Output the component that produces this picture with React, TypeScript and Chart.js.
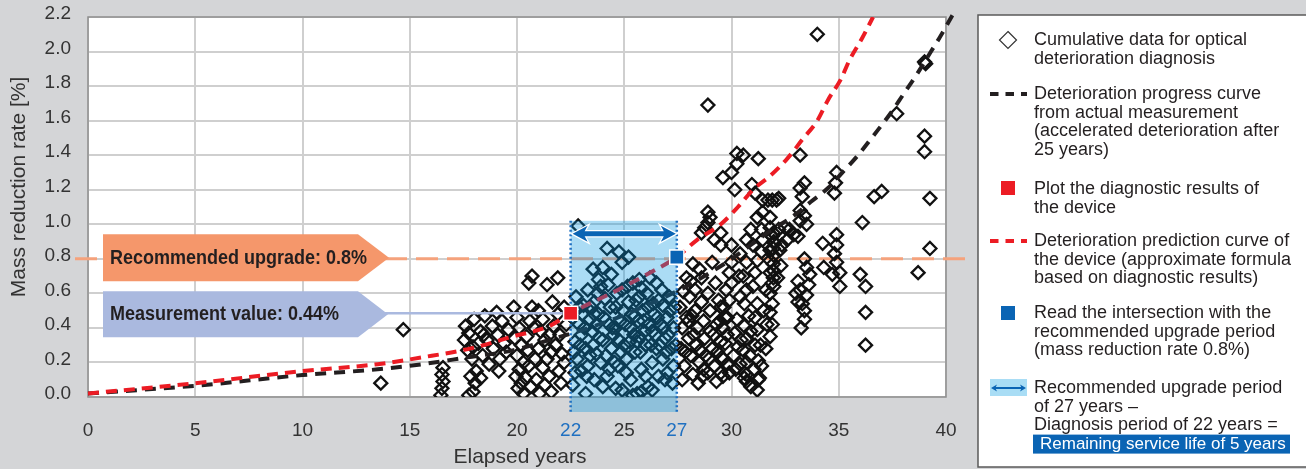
import React, { useEffect, useRef } from 'react';
import { Chart, registerables } from 'chart.js';

Chart.register(...registerables);

const W = 1306;
const H = 469;
const FONT = '"Liberation Sans", Arial, Helvetica, sans-serif';
const BG = '#d4d5d7';
const INK = '#231f20';
const AXIS_TEXT = '#333333';
const GRID = '#cfcfcf';
const FRAME = '#8e8e8e';
const BLUE = '#0a64b4';
const TICK_BLUE = '#1f70c1';
const RED = '#ec1c24';
const ORANGE_LINE = '#f5a27c';
const ORANGE_BOX = '#f5976b';
const LAVENDER = '#aab9df';
const REGION = 'rgba(0,150,225,0.33)';

// target plot rectangle in the page
const PLOT = { left: 88, top: 17, right: 946, bottom: 397 };

// ---------- axes ----------
const xTickValues = [0, 5, 10, 15, 20, 22.5, 25, 27.45, 30, 35, 40];
const xTickLabels = ['0', '5', '10', '15', '20', '22', '25', '27', '30', '35', '40'];
const xHighlightTicks = [22.5, 27.45];
const yTickValues = [0, 0.2, 0.4, 0.6, 0.8, 1.0, 1.2, 1.4, 1.6, 1.8, 2.0, 2.2];

// ---------- key values ----------
const diagnosisPoint = [22.5, 0.485]; // drawn where the reference puts "22"
const upgradePoint = [27.45, 0.81]; // drawn where the reference puts "27"
const upgradeThreshold = 0.8;
const periodBandTop = 1.02;

const recommendedLabel = 'Recommended upgrade: 0.8%';
const measurementLabel = 'Measurement value: 0.44%';

// ---------- curves ----------
const predictionX = [0, 5, 10, 13.5, 15.6, 17.8, 19.8, 21.5, 22.5, 24.7, 26.2, 27.45, 28.4, 29.5, 30.3, 31, 31.8, 32.6, 33.3, 34, 34.5, 35.1, 35.5, 36.1, 36.6];
const predictionY = [0.02, 0.08, 0.15, 0.19, 0.23, 0.28, 0.35, 0.41, 0.485, 0.62, 0.72, 0.81, 0.91, 1.0, 1.1, 1.2, 1.28, 1.38, 1.49, 1.6, 1.72, 1.84, 1.95, 2.08, 2.2];
const progressX = [0, 5, 10, 13.5, 15.6, 17.7, 19.8, 21.5, 23.1, 24.7, 26.2, 27.9, 29.0, 29.9, 30.9, 31.9, 32.8, 33.7, 34.5, 35.1, 35.9, 36.6, 37.4, 38.0, 38.6, 39.3, 39.7, 40.3];
const progressY = [0.02, 0.065, 0.127, 0.16, 0.19, 0.23, 0.27, 0.33, 0.39, 0.46, 0.54, 0.64, 0.72, 0.79, 0.88, 0.97, 1.04, 1.13, 1.21, 1.29, 1.4, 1.51, 1.64, 1.75, 1.86, 2.0, 2.08, 2.21];

// ---------- cumulative diagnosis data ----------
const diagnosisData: [number, number][] = [
  [13.65, 0.08], [14.7, 0.39],
  [16.55, 0.17], [16.5, 0.13], [16.55, 0.09], [16.5, 0.05], [16.45, 0.01],
  [17.55, 0.33], [17.6, 0.41], [17.75, 0.37], [17.7, 0.27], [17.9, 0.22], [18.0, 0.45], [18.1, 0.15], [18.2, 0.31], [18.3, 0.38], [18.4, 0.24],
  [18.5, 0.47], [18.6, 0.33], [18.7, 0.19], [18.85, 0.41], [18.9, 0.28], [19.05, 0.49], [19.1, 0.36], [19.2, 0.22], [19.3, 0.44], [19.4, 0.31],
  [17.75, 0.01], [17.95, 0.03], [18.05, 0.08], [17.85, 0.12], [18.3, 0.11], [19.6, 0.39], [19.5, 0.26], [18.45, 0.36], [17.95, 0.29], [19.15, 0.15],
  [19.85, 0.52], [20.0, 0.46], [20.1, 0.4], [19.9, 0.34], [20.2, 0.3], [20.0, 0.24], [20.3, 0.2], [20.1, 0.16], [19.95, 0.12], [20.2, 0.08],
  [20.05, 0.05], [20.3, 0.02], [20.4, 0.11], [20.5, 0.27], [20.6, 0.44], [20.45, 0.35], [20.7, 0.52], [20.55, 0.18], [20.55, 0.66], [20.7, 0.7],
  [21.4, 0.65], [21.9, 0.69], [21.0, 0.5], [21.2, 0.45], [21.1, 0.38], [21.3, 0.33], [21.0, 0.28], [21.4, 0.22], [21.2, 0.17], [21.5, 0.12],
  [21.3, 0.07], [21.6, 0.03], [21.7, 0.41], [21.8, 0.3], [21.9, 0.48], [22.0, 0.36], [22.1, 0.25], [21.95, 0.15], [22.2, 0.52], [22.3, 0.42],
  [22.2, 0.2], [21.65, 0.55], [21.5, 0.36], [20.9, 0.1], [21.05, 0.02], [20.8, 0.4], [20.85, 0.22], [21.6, 0.26], [22.05, 0.08], [20.65, 0.06],
  [22.85, 0.99], [22.6, 0.07], [22.7, 0.32], [22.8, 0.22], [22.9, 0.42], [23.0, 0.15], [23.1, 0.53], [23.0, 0.36], [23.2, 0.28], [23.3, 0.62],
  [23.4, 0.45], [23.3, 0.18], [23.55, 0.74], [23.6, 0.55], [23.5, 0.38], [23.7, 0.25], [23.6, 0.1], [23.8, 0.48], [23.9, 0.64], [24.0, 0.33],
  [23.9, 0.2], [24.0, 0.75], [24.2, 0.86], [24.1, 0.57], [24.3, 0.42], [24.2, 0.12], [24.4, 0.28], [24.4, 0.71], [24.6, 0.52], [24.5, 0.36],
  [24.7, 0.18], [24.6, 0.05], [24.75, 0.84], [24.9, 0.62], [24.8, 0.44], [25.0, 0.3], [24.9, 0.78], [25.1, 0.22], [25.2, 0.81], [25.2, 0.55],
  [25.3, 0.4], [25.3, 0.1], [25.4, 0.66], [25.5, 0.47], [25.5, 0.26], [25.6, 0.02], [25.7, 0.58], [25.7, 0.35], [25.8, 0.16], [25.7, 0.68],
  [25.9, 0.44], [26.0, 0.3], [26.1, 0.52], [26.1, 0.06], [26.2, 0.69], [26.3, 0.38], [26.3, 0.2], [26.4, 0.48], [26.5, 0.66], [26.5, 0.28],
  [26.6, 0.12], [26.7, 0.42], [26.8, 0.53], [26.8, 0.22], [26.9, 0.34], [27.0, 0.46], [27.1, 0.58], [27.0, 0.14], [27.2, 0.28], [27.3, 0.4],
  [27.3, 0.18], [22.6, 0.46], [22.75, 0.58], [22.65, 0.26], [22.95, 0.3], [23.15, 0.4], [23.05, 0.48], [23.25, 0.12], [23.45, 0.52], [23.55, 0.3],
  [23.75, 0.6], [23.7, 0.42], [23.85, 0.34], [24.05, 0.46], [24.15, 0.24], [24.25, 0.65], [24.35, 0.52], [24.45, 0.4], [24.55, 0.2], [24.65, 0.6],
  [24.75, 0.33], [24.85, 0.26], [24.95, 0.5], [25.05, 0.42], [25.15, 0.64], [25.25, 0.32], [25.35, 0.48], [25.45, 0.36], [25.55, 0.56], [25.65, 0.44],
  [25.75, 0.26], [25.85, 0.5], [25.95, 0.38], [26.05, 0.6], [26.15, 0.42], [26.25, 0.3], [26.35, 0.54], [26.45, 0.36], [26.55, 0.46], [26.65, 0.3],
  [26.75, 0.62], [26.85, 0.4], [26.95, 0.26], [27.05, 0.36], [27.15, 0.5], [27.25, 0.08], [24.0, 0.06], [24.9, 0.04], [25.4, 0.01], [25.8, 0.03],
  [26.3, 0.04], [23.2, 0.02], [23.8, 0.68], [25.8, 0.63], [22.7, 0.14], [23.4, 0.24], [24.3, 0.16], [25.1, 0.14], [26.0, 0.12], [26.9, 0.1],
  [22.9, 0.52], [23.6, 0.48], [24.6, 0.4], [25.6, 0.32], [26.6, 0.56], [27.35, 0.52], [27.4, 0.3],
  [27.6, 0.52], [27.75, 0.61], [27.7, 0.4], [27.65, 0.28], [27.8, 0.18], [27.7, 0.1], [27.9, 0.46], [28.05, 0.58], [28.1, 0.67], [28.0, 0.34],
  [28.1, 0.24], [28.2, 0.13], [28.3, 0.5], [28.4, 0.4], [28.35, 0.3], [28.5, 0.2], [28.45, 0.08], [28.6, 0.69], [28.6, 0.55], [28.7, 0.44],
  [28.75, 0.34], [28.8, 0.24], [28.9, 0.14], [28.9, 0.6], [29.0, 0.5], [29.0, 0.38], [29.1, 0.28], [29.2, 0.18], [29.3, 0.09], [29.3, 0.42],
  [29.4, 0.56], [29.5, 0.52], [29.5, 0.32], [29.6, 0.22], [29.7, 0.46], [29.75, 0.62], [29.8, 0.36], [29.9, 0.14], [29.5, 0.14], [27.9, 0.69],
  [28.5, 0.74], [28.6, 0.95], [28.9, 1.07], [28.9, 1.01], [29.5, 0.95], [29.5, 0.88], [28.75, 0.98], [29.0, 1.04], [29.2, 0.91], [29.6, 1.27],
  [28.9, 1.69], [28.2, 0.77], [29.1, 0.78], [28.3, 0.62], [29.25, 0.66], [29.9, 0.72], [30.0, 0.66], [30.0, 0.78], [29.8, 0.46], [29.6, 0.4],
  [29.7, 0.31], [29.55, 0.23], [29.8, 0.19], [29.6, 0.12],
  [28.0, 0.44], [28.25, 0.36], [28.55, 0.27], [28.7, 0.16], [28.95, 0.22], [29.15, 0.36], [29.35, 0.26], [29.45, 0.44], [29.65, 0.52], [29.9, 0.56],
  [30.1, 0.24], [30.2, 0.16], [30.45, 0.33], [30.85, 0.24], [30.9, 0.38], [31.05, 0.16], [31.35, 0.3], [27.85, 0.26], [28.15, 0.47], [28.65, 0.12],
  [30.9, 0.06], [31.2, 0.04],
  [30.0, 1.3], [30.25, 1.41], [30.55, 1.4], [30.25, 1.35], [31.25, 1.38], [30.15, 1.2], [30.95, 1.23], [31.1, 1.18], [31.45, 1.14], [31.9, 1.14],
  [32.2, 1.15], [31.2, 1.04], [31.8, 1.04], [31.8, 0.98], [31.4, 0.97], [32.2, 0.97], [30.9, 0.97], [30.7, 0.91], [31.45, 0.91], [31.9, 0.93],
  [32.5, 0.98], [32.7, 0.97], [30.0, 0.88], [31.0, 0.88], [31.4, 0.84], [31.8, 0.85], [32.25, 0.85], [32.6, 0.91],
  [30.7, 0.78], [30.55, 0.7], [30.7, 0.62], [30.6, 0.54], [30.8, 0.47], [30.6, 0.41], [30.7, 0.34], [30.55, 0.27], [30.7, 0.2], [30.6, 0.14],
  [30.7, 0.09], [31.25, 0.1], [31.25, 0.21], [31.1, 0.3], [31.2, 0.39], [31.1, 0.46], [31.2, 0.54], [31.0, 0.64], [31.1, 0.72], [31.2, 0.79],
  [31.8, 0.79], [31.8, 0.72], [31.9, 0.66], [31.8, 0.6], [31.9, 0.54], [31.8, 0.49], [31.9, 0.42], [31.8, 0.35], [30.25, 0.45], [30.15, 0.37],
  [30.3, 0.29], [30.4, 0.19], [30.6, 0.11], [31.3, 0.11], [30.7, 0.13],
  [31.95, 0.95], [31.97, 0.9], [31.95, 0.86], [31.97, 0.82], [31.95, 0.77], [31.97, 0.73], [31.95, 0.69], [31.97, 0.64],
  [32.1, 1.14], [31.7, 1.14], [31.45, 1.07], [32.0, 0.89], [32.3, 0.76], [32.15, 0.69], [32.35, 0.88], [31.6, 0.62], [31.5, 0.5], [31.6, 0.28],
  [31.4, 0.18], [31.65, 0.42], [30.4, 0.58], [30.35, 0.7], [30.4, 0.83],
  [33.2, 1.4], [33.2, 1.21], [33.4, 1.24], [33.3, 1.16], [33.2, 1.08], [33.4, 1.05], [33.2, 1.02], [33.5, 1.0], [33.1, 0.93], [33.4, 0.8],
  [33.5, 0.75], [33.65, 0.71], [33.1, 0.67], [33.2, 0.62], [33.5, 0.59], [33.1, 0.55], [33.4, 0.5], [33.4, 0.45], [33.25, 0.4], [33.0, 0.6],
  [32.9, 0.94], [33.6, 0.65], [33.3, 0.54],
  [34.0, 2.1], [34.9, 1.3], [34.85, 1.24], [34.8, 1.18], [34.9, 0.94], [34.9, 0.88], [34.8, 0.83], [34.9, 0.78], [35.05, 0.72], [35.05, 0.64],
  [34.7, 0.71], [34.3, 0.75], [34.25, 0.89],
  [36.1, 1.01], [36.0, 0.71], [36.25, 0.64], [36.25, 0.49], [36.25, 0.3], [36.65, 1.16], [37.0, 1.19], [37.7, 1.64], [39.0, 1.94], [39.05, 1.93],
  [39.0, 1.51], [39.0, 1.42], [39.25, 1.15], [39.25, 0.86], [38.7, 0.72],
];

const legendEntries: string[][] = [
  ['Cumulative data for optical', 'deterioration diagnosis'],
  ['Deterioration progress curve', 'from actual measurement', '(accelerated deterioration after', '25 years)'],
  ['Plot the diagnostic results of', 'the device'],
  ['Deterioration prediction curve of', 'the device (approximate formula', 'based on diagnostic results)'],
  ['Read the intersection with the', 'recommended upgrade period', '(mass reduction rate 0.8%)'],
  ['Recommended upgrade period', 'of 27 years –', 'Diagnosis period of 22 years =', 'Remaining service life of 5 years'],
];

const xTitle = 'Elapsed years';
const yTitle = 'Mass reduction rate [%]';

function drawText(ctx: CanvasRenderingContext2D, s: string, x: number, y: number, font: string, color: string, align: CanvasTextAlign = 'left', scaleX = 1) {
  ctx.save();
  ctx.font = font;
  ctx.fillStyle = color;
  ctx.textAlign = align;
  ctx.textBaseline = 'middle';
  ctx.translate(x, y);
  ctx.scale(scaleX, 1);
  ctx.fillText(s, 0, 0);
  ctx.restore();
}

function doubleArrowPath(ctx: CanvasRenderingContext2D, xl: number, xr: number, y: number, hl: number, hh: number, sw: number) {
  ctx.beginPath();
  ctx.moveTo(xl, y);
  ctx.lineTo(xl + hl, y - hh);
  ctx.lineTo(xl + hl * 0.8, y - sw);
  ctx.lineTo(xr - hl * 0.8, y - sw);
  ctx.lineTo(xr - hl, y - hh);
  ctx.lineTo(xr, y);
  ctx.lineTo(xr - hl, y + hh);
  ctx.lineTo(xr - hl * 0.8, y + sw);
  ctx.lineTo(xl + hl * 0.8, y + sw);
  ctx.lineTo(xl + hl, y + hh);
  ctx.closePath();
}

function tagPath(ctx: CanvasRenderingContext2D, x0: number, x1: number, tip: number, yc: number, hh: number) {
  ctx.beginPath();
  ctx.moveTo(x0, yc - hh);
  ctx.lineTo(x1, yc - hh);
  ctx.lineTo(tip, yc);
  ctx.lineTo(x1, yc + hh);
  ctx.lineTo(x0, yc + hh);
  ctx.closePath();
}

const SQUARES_INDEX = 3;

const decorPlugin = {
  id: 'decor',
  beforeDraw(chart: any) {
    const { ctx, chartArea: a } = chart;
    ctx.save();
    ctx.fillStyle = BG;
    ctx.fillRect(0, 0, W, H);
    ctx.fillStyle = '#ffffff';
    ctx.fillRect(a.left, a.top, a.right - a.left, a.bottom - a.top);
    ctx.restore();
  },
  beforeDatasetsDraw(chart: any) {
    const { ctx, chartArea: a, scales } = chart;
    ctx.save();
    ctx.strokeStyle = FRAME;
    ctx.lineWidth = 1.5;
    ctx.strokeRect(a.left, a.top, a.right - a.left, a.bottom - a.top);
    const y = scales.y.getPixelForValue(upgradeThreshold);
    ctx.strokeStyle = ORANGE_LINE;
    ctx.lineWidth = 3;
    ctx.setLineDash([22, 9]);
    ctx.beginPath();
    ctx.moveTo(a.left - 13, y);
    ctx.lineTo(a.right + 21, y);
    ctx.stroke();
    ctx.restore();
  },
  beforeDatasetDraw(chart: any, args: any) {
    if (args.index !== SQUARES_INDEX) return;
    const { ctx, chartArea: a, scales } = chart;
    const x1 = scales.x.getPixelForValue(diagnosisPoint[0]);
    const x2 = scales.x.getPixelForValue(upgradePoint[0]);
    const yTop = scales.y.getPixelForValue(periodBandTop);
    const yBot = a.bottom + 15;
    ctx.save();
    ctx.fillStyle = REGION;
    ctx.fillRect(x1, yTop, x2 - x1, yBot - yTop);
    ctx.strokeStyle = TICK_BLUE;
    ctx.lineWidth = 2.5;
    ctx.setLineDash([2, 2.5]);
    ctx.beginPath();
    ctx.moveTo(x1, yTop);
    ctx.lineTo(x1, yBot);
    ctx.moveTo(x2, yTop);
    ctx.lineTo(x2, yBot);
    ctx.stroke();
    ctx.setLineDash([]);
    const ay = yTop + 13;
    doubleArrowPath(ctx, x1 + 2, x2 - 1, ay, 15, 8, 2.5);
    ctx.lineJoin = 'miter';
    ctx.strokeStyle = '#ffffff';
    ctx.lineWidth = 2.5;
    ctx.stroke();
    ctx.fillStyle = BLUE;
    ctx.fill();
    ctx.restore();
  },
  afterDraw(chart: any) {
    const { ctx, chartArea: a, scales } = chart;
    ctx.save();
    const my = scales.y.getPixelForValue(diagnosisPoint[1]);
    const mx = scales.x.getPixelForValue(diagnosisPoint[0]);
    ctx.strokeStyle = LAVENDER;
    ctx.lineWidth = 2.5;
    ctx.beginPath();
    ctx.moveTo(385, my);
    ctx.lineTo(mx - 8, my);
    ctx.stroke();
    const oy = scales.y.getPixelForValue(upgradeThreshold) - 1;
    tagPath(ctx, 103, 358, 389, oy, 23.5);
    ctx.fillStyle = ORANGE_BOX;
    ctx.fill();
    drawText(ctx, recommendedLabel, 110, oy + 1, `bold 20px ${FONT}`, INK, 'left', 0.9);
    tagPath(ctx, 103, 358, 388, my + 1, 23);
    ctx.fillStyle = LAVENDER;
    ctx.fill();
    drawText(ctx, measurementLabel, 110, my + 1, `bold 20px ${FONT}`, INK, 'left', 0.9);

    drawText(ctx, xTitle, (a.left + a.right) / 2 + 3, 457, `21px ${FONT}`, AXIS_TEXT, 'center');
    ctx.save();
    ctx.translate(19, 187);
    ctx.rotate(-Math.PI / 2);
    drawText(ctx, yTitle, 0, 0, `21px ${FONT}`, AXIS_TEXT, 'center');
    ctx.restore();

    ctx.fillStyle = '#ffffff';
    ctx.fillRect(978, 15, 340, 452);
    ctx.strokeStyle = '#5a5a5a';
    ctx.lineWidth = 1.5;
    ctx.strokeRect(978, 15, 340, 452);

    const tops = [40, 94, 189, 241, 313, 388];
    const LH = 18.7;
    legendEntries.forEach((lines, i) => {
      lines.forEach((s, j) => {
        const y = tops[i] + j * LH;
        const hl = i === legendEntries.length - 1 && j === lines.length - 1;
        if (hl) {
          ctx.fillStyle = BLUE;
          ctx.fillRect(1033, y - 9.5, 257, 19);
          drawText(ctx, s, 1040, y, `17px ${FONT}`, '#ffffff');
        } else {
          drawText(ctx, s, 1034, y, `18px ${FONT}`, INK);
        }
      });
    });
    ctx.beginPath();
    ctx.moveTo(1008, tops[0] - 8.5);
    ctx.lineTo(1016.5, tops[0]);
    ctx.lineTo(1008, tops[0] + 8.5);
    ctx.lineTo(999.5, tops[0]);
    ctx.closePath();
    ctx.strokeStyle = '#333';
    ctx.lineWidth = 1.2;
    ctx.stroke();
    const dashIcon = (y: number, color: string) => {
      ctx.save();
      ctx.strokeStyle = color;
      ctx.lineWidth = 4;
      ctx.setLineDash([8.5, 7]);
      ctx.beginPath();
      ctx.moveTo(990, y);
      ctx.lineTo(1027, y);
      ctx.stroke();
      ctx.restore();
    };
    dashIcon(tops[1], INK);
    dashIcon(tops[3], RED);
    ctx.fillStyle = RED;
    ctx.fillRect(1001, tops[2] - 8, 14, 14);
    ctx.fillStyle = BLUE;
    ctx.fillRect(1001, tops[4] - 7, 14, 14);
    ctx.fillStyle = '#a9ddf5';
    ctx.fillRect(990, tops[5] - 9, 37, 17);
    doubleArrowPath(ctx, 991, 1026, tops[5], 6, 3.5, 1);
    ctx.fillStyle = BLUE;
    ctx.fill();
    ctx.restore();
  },
};

export default function App() {
  const ref = useRef<HTMLCanvasElement>(null);
  useEffect(() => {
    document.body.style.margin = '0';
    const canvas = ref.current;
    if (!canvas) return;
    const chart = new Chart(canvas, {
      type: 'scatter',
      data: {
        datasets: [
          {
            label: 'Cumulative data for optical deterioration diagnosis',
            data: diagnosisData.map(([x, y]) => ({ x, y })),
            pointStyle: 'rectRot',
            pointRadius: 6.5,
            pointBorderWidth: 2.3,
            pointBorderColor: '#111111',
            pointBackgroundColor: 'rgba(0,0,0,0)',
            showLine: false,
            order: 4,
          },
          {
            label: 'Deterioration progress curve',
            data: progressX.map((x, i) => ({ x, y: progressY[i] })),
            showLine: true,
            borderColor: INK,
            borderWidth: 4,
            borderDash: [11, 8],
            pointRadius: 0,
            cubicInterpolationMode: 'monotone',
            clip: 8,
            order: 3,
          },
          {
            label: 'Deterioration prediction curve',
            data: predictionX.map((x, i) => ({ x, y: predictionY[i] })),
            showLine: true,
            borderColor: RED,
            borderWidth: 4,
            borderDash: [11, 7],
            pointRadius: 0,
            cubicInterpolationMode: 'monotone',
            order: 2,
          },
          {
            label: 'Device results',
            data: [
              { x: diagnosisPoint[0], y: diagnosisPoint[1] },
              { x: upgradePoint[0], y: upgradePoint[1] },
            ],
            showLine: false,
            pointStyle: 'rect',
            pointRadius: 10,
            pointBorderWidth: 1.5,
            pointBorderColor: '#ffffff',
            pointBackgroundColor: [RED, BLUE],
            clip: 10,
            order: 1,
          },
        ],
      },
      options: {
        responsive: false,
        animation: false,
        devicePixelRatio: 1,
        events: [],
        layout: { padding: { left: 0, top: PLOT.top, right: W - PLOT.right, bottom: 0 } },
        plugins: { legend: { display: false }, tooltip: { enabled: false }, title: { display: false } },
        scales: {
          x: {
            type: 'linear',
            min: 0,
            max: 40,
            afterFit: (s: any) => {
              s.height = H - PLOT.bottom;
              s.paddingLeft = 0;
              s.paddingRight = 0;
            },
            afterBuildTicks: (s: any) => {
              s.ticks = xTickValues.map((v) => ({ value: v }));
            },
            border: { display: false },
            grid: {
              drawTicks: false,
              lineWidth: 2,
              color: (c: any) => (c.tick && xHighlightTicks.includes(c.tick.value) ? 'rgba(0,0,0,0)' : GRID),
            },
            ticks: {
              autoSkip: false,
              maxRotation: 0,
              padding: 22,
              font: { family: FONT, size: 19 },
              color: (c: any) => (c.tick && xHighlightTicks.includes(c.tick.value) ? TICK_BLUE : AXIS_TEXT),
              callback: (v: any) => {
                const i = xTickValues.indexOf(Number(v));
                return i >= 0 ? xTickLabels[i] : '';
              },
            },
          },
          y: {
            type: 'linear',
            min: 0,
            max: 2.2,
            afterFit: (s: any) => {
              s.width = PLOT.left;
              s.paddingTop = 0;
              s.paddingBottom = 0;
            },
            afterBuildTicks: (s: any) => {
              s.ticks = yTickValues.map((v) => ({ value: v }));
            },
            border: { display: false },
            grid: { drawTicks: false, lineWidth: 2, color: GRID },
            ticks: {
              padding: 17,
              labelOffset: -3,
              font: { family: FONT, size: 19 },
              color: AXIS_TEXT,
              callback: (v: any) => Number(v).toFixed(1),
            },
          },
        },
      },
      plugins: [decorPlugin],
    } as any);
    return () => chart.destroy();
  }, []);
  return (
    <div style={{ width: W, height: H, background: BG }}>
      <canvas ref={ref} width={W} height={H} style={{ display: 'block', width: W, height: H }} />
    </div>
  );
}
